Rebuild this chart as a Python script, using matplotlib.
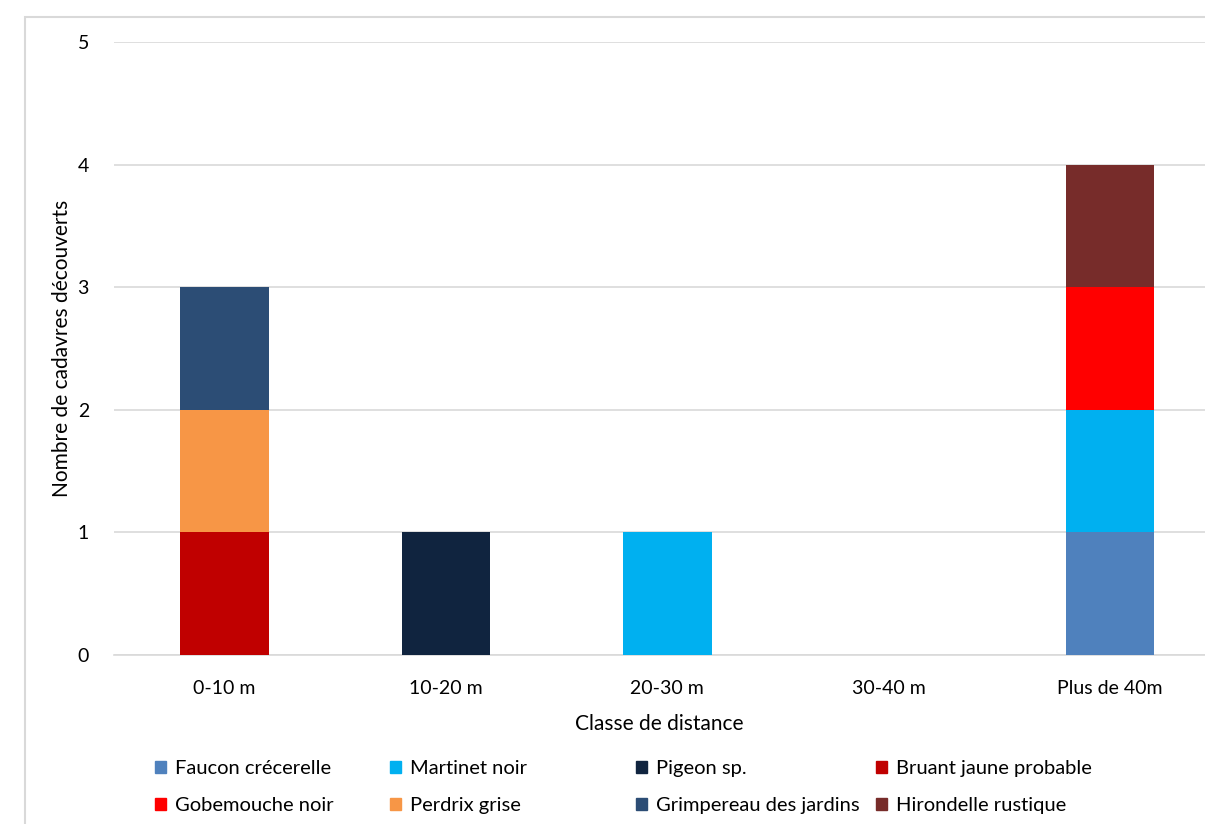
import matplotlib
matplotlib.use("Agg")
import matplotlib.pyplot as plt
from matplotlib.patches import Rectangle, Patch
import numpy as np

plt.rcParams['font.family'] = ['Lato', 'DejaVu Sans']

categories = ["0-10 m", "10-20 m", "20-30 m", "30-40 m", "Plus de 40m"]
species = ["Faucon crécerelle", "Martinet noir", "Pigeon sp.", "Bruant jaune probable",
           "Gobemouche noir", "Perdrix grise", "Grimpereau des jardins", "Hirondelle rustique"]
faucon = [0, 0, 0, 0, 1]
martinet = [0, 0, 1, 0, 1]
pigeon = [0, 1, 0, 0, 0]
bruant = [1, 0, 0, 0, 0]
gobemouche = [0, 0, 0, 0, 1]
perdrix = [1, 0, 0, 0, 0]
grimpereau = [1, 0, 0, 0, 0]
hirondelle = [0, 0, 0, 0, 1]
colors = ["#4F81BD", "#00B0F0", "#10243F", "#C00000",
          "#FF0000", "#F79646", "#2C4D75", "#772C2A"]
y_ticks = [0, 1, 2, 3, 4, 5]

series = [faucon, martinet, pigeon, bruant, gobemouche, perdrix, grimpereau, hirondelle]

fig = plt.figure(figsize=(12.05, 8.24), dpi=100)
ax = fig.add_axes([114/1205, 1-655/824, 1-114/1205, (655-42)/824])

x = np.arange(len(categories))
bottom = np.zeros(len(categories))
handles = []
for name, vals, c in zip(species, series, colors):
    v = np.array(vals, dtype=float)
    ax.bar(x, v, bottom=bottom, width=0.4, color=c, label=name, zorder=3)
    bottom += v
    handles.append(Patch(color=c, label=name))

ax.set_ylim(0, 5)
ax.set_xlim(-0.5, 4.43)
ax.set_yticks(y_ticks)
ax.set_xticks(x)
ax.set_xticklabels(categories)
ax.yaxis.grid(True, color="#D9D9D9", linewidth=1.2, zorder=0)
ax.set_axisbelow(True)
for s in ["top", "right", "left"]:
    ax.spines[s].set_visible(False)
ax.spines["bottom"].set_color("#D9D9D9")
ax.spines["bottom"].set_linewidth(1.2)
ax.tick_params(axis="both", length=0, labelsize=14, colors="#000000")
ax.tick_params(axis="y", pad=18)
ax.tick_params(axis="x", pad=18)
ax.set_xlabel("Classe de distance", fontsize=15, labelpad=12)
ax.set_ylabel("Nombre de cadavres découverts", fontsize=15, labelpad=4)

# legend in 4 columns, 2 rows
col_x = [155/1205, 390/1205, 636/1205, 876/1205]
for ci in range(4):
    hs = [handles[ci], handles[ci + 4]]
    fig.legend(handles=hs, loc="upper left", bbox_to_anchor=(col_x[ci], 1-760/824),
               frameon=False, fontsize=14.5, handlelength=0.55, handleheight=0.55,
               handletextpad=0.45, labelspacing=1.0, borderaxespad=0, borderpad=0)

# outer chart frame
fig.patches.append(Rectangle((25/1205, -0.1), 1.2, 1.1 - 17/824, transform=fig.transFigure,
                             fill=False, edgecolor="#D9D9D9", linewidth=1.5, figure=fig))

fig.savefig("out.png", dpi=100)
